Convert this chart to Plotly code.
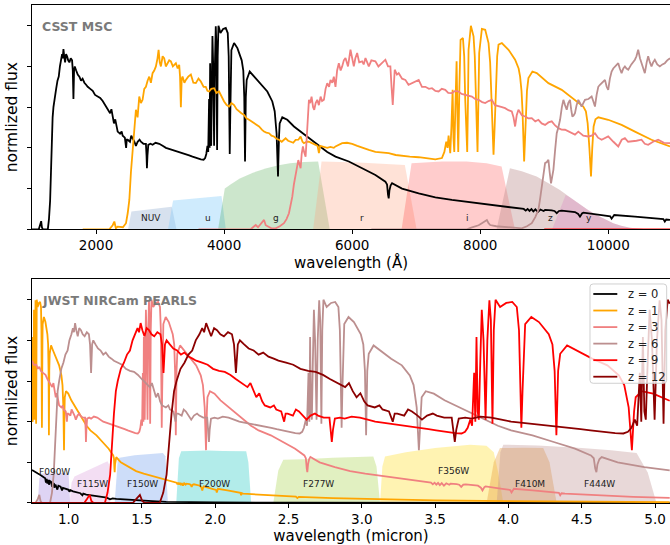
import plotly.graph_objects as go

# ---------------- DATA ----------------
labels = ["z = 0", "z = 1", "z = 3", "z = 6", "z = 9", "z = 12"]
line_colors = ["#000000", "#FFA500", "#F08080", "#BC8F8F", "#FF0000", "#8B0000"]

# ---- CSST MSC panel (wavelength in Angstrom, normalised flux) ----
csst_z0 = [(1000,0),(1060,0),(1106,0),(1125,0.02),(1143,0.04),(1155,0.01),(1169,0),(1247,0),(1265,0.05),(1283,0.14),(1296,0.3),(1309,0.44),(1322,0.55),(1335,0.60),(1356,0.66),(1377,0.69),(1398,0.73),(1418,0.75),(1436,0.80),(1455,0.83),(1470,0.86),(1480,0.84),(1491,0.885),(1503,0.85),(1517,0.82),(1532,0.86),(1548,0.85),(1565,0.83),(1584,0.82),(1605,0.84),(1626,0.83),(1637,0.78),(1647,0.64),(1657,0.78),(1668,0.80),(1690,0.78),(1714,0.76),(1740,0.75),(1766,0.73),(1790,0.74),(1818,0.72),(1845,0.71),(1870,0.70),(1910,0.69),(1948,0.68),(1985,0.66),(2026,0.65),(2065,0.645),(2104,0.63),(2140,0.61),(2182,0.59),(2220,0.57),(2240,0.59),(2260,0.55),(2280,0.52),(2300,0.54),(2320,0.50),(2338,0.48),(2375,0.47),(2400,0.48),(2416,0.46),(2450,0.45),(2470,0.40),(2480,0.44),(2494,0.44),(2530,0.43),(2550,0.46),(2571,0.45),(2600,0.43),(2623,0.41),(2650,0.43),(2680,0.44),(2701,0.43),(2740,0.42),(2779,0.42),(2789,0.36),(2795,0.30),(2803,0.36),(2816,0.415),(2850,0.42),(2883,0.415),(2930,0.425),(2987,0.42),(3040,0.41),(3091,0.40),(3140,0.395),(3195,0.39),(3250,0.385),(3299,0.38),(3350,0.375),(3403,0.37),(3455,0.363),(3507,0.357),(3570,0.35),(3637,0.344),(3680,0.342),(3704,0.35),(3722,0.37),(3740,0.41),(3752,0.38),(3766,0.64),(3774,0.40),(3782,0.816),(3790,0.45),(3798,0.41),(3808,0.70),(3818,0.95),(3830,0.80),(3844,0.41),(3856,0.80),(3870,0.997),(3880,0.90),(3891,0.39),(3900,0.85),(3912,1.0),(3943,0.964),(3985,0.984),(4026,0.989),(4057,0.964),(4072,0.85),(4082,0.55),(4088,0.37),(4096,0.55),(4106,0.80),(4114,0.88),(4156,0.915),(4208,0.89),(4275,0.83),(4300,0.78),(4315,0.65),(4327,0.333),(4339,0.65),(4353,0.734),(4400,0.775),(4468,0.75),(4571,0.71),(4675,0.677),(4753,0.628),(4790,0.58),(4820,0.47),(4842,0.26),(4857,0.45),(4868,0.52),(4909,0.55),(4987,0.538),(5091,0.505),(5195,0.48),(5325,0.45),(5481,0.415),(5611,0.38),(5740,0.357),(5948,0.333),(6156,0.30),(6363,0.267),(6519,0.234),(6545,0.22),(6560,0.17),(6571,0.152),(6582,0.19),(6600,0.215),(6623,0.226),(6779,0.20),(7039,0.177),(7299,0.157),(7558,0.144),(7818,0.133),(8078,0.123),(8338,0.111),(8597,0.103),(8680,0.1),(8710,0.092),(8740,0.1),(8770,0.09),(8800,0.099),(8830,0.088),(8862,0.098),(8900,0.085),(8940,0.097),(8990,0.09),(9013,0.095),(9117,0.093),(9160,0.09),(9195,0.079),(9230,0.09),(9273,0.092),(9377,0.09),(9480,0.085),(9530,0.075),(9558,0.062),(9590,0.078),(9610,0.082),(9896,0.07),(10030,0.064),(10052,0.052),(10075,0.066),(10093,0.07),(10416,0.062),(10727,0.054),(10860,0.05),(10883,0.038),(10905,0.048),(10964,0.046)]

csst_z1 = [(1792,0),(2208,0),(2260,0.02),(2286,0.038),(2310,0.005),(2338,0.013),(2420,0.01),(2468,0.03),(2495,0.08),(2520,0.144),(2545,0.28),(2571,0.39),(2597,0.5),(2623,0.587),(2649,0.55),(2675,0.652),(2701,0.62),(2727,0.636),(2753,0.69),(2779,0.70),(2805,0.73),(2831,0.75),(2857,0.72),(2883,0.767),(2909,0.78),(2935,0.80),(2960,0.84),(2977,0.882),(2995,0.82),(3013,0.80),(3040,0.85),(3065,0.84),(3090,0.80),(3117,0.816),(3143,0.83),(3169,0.825),(3200,0.80),(3247,0.816),(3275,0.79),(3299,0.808),(3312,0.75),(3325,0.60),(3338,0.74),(3351,0.75),(3380,0.72),(3403,0.734),(3440,0.75),(3481,0.76),(3520,0.72),(3559,0.718),(3600,0.74),(3637,0.726),(3680,0.70),(3714,0.70),(3740,0.68),(3766,0.677),(3800,0.69),(3844,0.693),(3880,0.67),(3922,0.677),(3960,0.65),(4000,0.628),(4040,0.61),(4078,0.603),(4115,0.62),(4156,0.61),(4195,0.59),(4234,0.579),(4270,0.57),(4312,0.562),(4350,0.545),(4390,0.538),(4430,0.53),(4468,0.521),(4510,0.51),(4546,0.505),(4590,0.49),(4624,0.48),(4660,0.475),(4702,0.472),(4740,0.46),(4779,0.456),(4820,0.445),(4857,0.44),(4900,0.43),(4961,0.447),(5000,0.435),(5039,0.43),(5080,0.425),(5117,0.439),(5160,0.44),(5195,0.456),(5225,0.43),(5247,0.423),(5290,0.43),(5325,0.43),(5380,0.42),(5429,0.415),(5460,0.41),(5481,0.374),(5500,0.41),(5533,0.407),(5580,0.40),(5611,0.40),(5660,0.405),(5714,0.40),(5740,0.407),(5790,0.415),(5844,0.423),(5920,0.425),(6000,0.42),(6080,0.41),(6156,0.40),(6260,0.39),(6363,0.38),(6470,0.377),(6571,0.374),(6680,0.365),(6779,0.36),(6900,0.357),(7039,0.354),(7170,0.35),(7299,0.344),(7402,0.35),(7440,0.38),(7470,0.43),(7490,0.40),(7506,0.46),(7520,0.39),(7532,0.374),(7550,0.50),(7569,0.685),(7582,0.45),(7595,0.38),(7612,0.60),(7631,0.825),(7645,0.55),(7657,0.38),(7675,0.70),(7693,0.93),(7730,0.94),(7750,0.85),(7766,0.636),(7780,0.50),(7797,0.38),(7810,0.65),(7818,0.882),(7854,1.0),(7896,0.948),(7915,0.85),(7932,0.67),(7945,0.5),(7958,0.38),(7970,0.6),(7984,0.866),(8026,0.984),(8078,0.98),(8130,0.915),(8155,0.82),(8171,0.685),(8190,0.5),(8208,0.366),(8225,0.5),(8244,0.718),(8265,0.85),(8286,0.907),(8338,0.915),(8442,0.882),(8545,0.833),(8600,0.79),(8623,0.75),(8645,0.68),(8660,0.587),(8686,0.333),(8711,0.587),(8730,0.68),(8753,0.743),(8815,0.775),(8883,0.767),(9065,0.718),(9273,0.685),(9480,0.636),(9610,0.603),(9650,0.58),(9678,0.52),(9705,0.4),(9730,0.26),(9750,0.4),(9771,0.505),(9800,0.54),(9844,0.55),(9999,0.538),(10208,0.513),(10416,0.48),(10675,0.44),(10964,0.407)]

csst_z3 = [(3600,0),(4416,0),(4470,0.015),(4494,0.021),(4530,0.01),(4571,0.026),(4600,0.035),(4624,0.046),(4650,0.02),(4675,0.016),(4740,0.005),(4805,0.005),(4870,0.015),(4935,0.03),(4975,0.05),(5013,0.079),(5040,0.12),(5065,0.16),(5090,0.22),(5117,0.275),(5140,0.32),(5159,0.34),(5177,0.32),(5195,0.30),(5212,0.37),(5231,0.407),(5250,0.38),(5273,0.357),(5300,0.50),(5325,0.636),(5345,0.62),(5366,0.652),(5390,0.60),(5408,0.587),(5430,0.62),(5455,0.636),(5480,0.61),(5507,0.652),(5530,0.63),(5559,0.636),(5585,0.69),(5611,0.718),(5640,0.70),(5662,0.734),(5690,0.72),(5714,0.75),(5740,0.70),(5765,0.78),(5792,0.816),(5820,0.78),(5844,0.80),(5870,0.83),(5896,0.841),(5935,0.80),(5974,0.882),(6000,0.84),(6026,0.80),(6050,0.84),(6078,0.866),(6110,0.82),(6156,0.825),(6180,0.81),(6208,0.841),(6235,0.82),(6260,0.80),(6300,0.83),(6363,0.825),(6410,0.80),(6467,0.816),(6490,0.82),(6519,0.833),(6560,0.80),(6597,0.80),(6615,0.70),(6634,0.611),(6650,0.70),(6665,0.784),(6700,0.76),(6727,0.767),(6780,0.74),(6831,0.734),(6880,0.71),(6935,0.718),(6990,0.73),(7039,0.734),(7090,0.70),(7143,0.70),(7200,0.69),(7247,0.693),(7300,0.68),(7350,0.677),(7400,0.69),(7454,0.685),(7500,0.67),(7558,0.669),(7610,0.68),(7662,0.677),(7710,0.665),(7766,0.66),(7820,0.655),(7870,0.652),(7920,0.64),(7974,0.636),(8030,0.625),(8078,0.62),(8130,0.63),(8182,0.636),(8230,0.61),(8286,0.603),(8340,0.6),(8389,0.595),(8440,0.585),(8493,0.579),(8520,0.55),(8545,0.505),(8570,0.56),(8597,0.587),(8650,0.56),(8701,0.554),(8750,0.545),(8805,0.546),(8860,0.53),(8909,0.538),(8960,0.52),(9013,0.513),(9065,0.525),(9117,0.53),(9170,0.51),(9221,0.497),(9270,0.49),(9325,0.489),(9380,0.48),(9428,0.472),(9480,0.465),(9532,0.48),(9610,0.46),(9688,0.456),(9740,0.46),(9792,0.472),(9840,0.45),(9896,0.44),(9950,0.45),(9999,0.456),(10080,0.43),(10156,0.407),(10210,0.44),(10260,0.448),(10310,0.43),(10364,0.431),(10440,0.435),(10519,0.44),(10570,0.42),(10623,0.415),(10700,0.43),(10779,0.44),(10870,0.425),(10964,0.423)]

csst_z6 = [(6300,0),(7792,0),(7860,0.008),(7922,0.013),(7975,0.02),(8026,0.03),(8070,0.04),(8104,0.046),(8130,0.03),(8156,0.021),(8250,0.015),(8338,0.013),(8500,0.008),(8649,0.005),(8730,0.015),(8805,0.03),(8860,0.06),(8909,0.095),(8935,0.15),(8961,0.21),(8990,0.28),(9013,0.325),(9040,0.33),(9065,0.341),(9085,0.28),(9106,0.226),(9125,0.26),(9143,0.292),(9170,0.39),(9195,0.472),(9220,0.50),(9247,0.538),(9275,0.60),(9299,0.636),(9325,0.61),(9351,0.587),(9375,0.62),(9402,0.636),(9420,0.59),(9439,0.554),(9460,0.56),(9480,0.57),(9505,0.61),(9532,0.636),(9560,0.62),(9584,0.603),(9610,0.62),(9636,0.636),(9690,0.64),(9740,0.652),(9765,0.63),(9792,0.603),(9818,0.66),(9844,0.70),(9870,0.71),(9896,0.718),(9920,0.73),(9948,0.734),(9975,0.70),(9999,0.685),(10025,0.74),(10052,0.775),(10078,0.79),(10104,0.80),(10130,0.81),(10156,0.816),(10180,0.79),(10208,0.767),(10235,0.79),(10260,0.80),(10285,0.79),(10312,0.784),(10360,0.81),(10416,0.833),(10440,0.85),(10467,0.882),(10495,0.84),(10519,0.816),(10545,0.79),(10571,0.767),(10600,0.82),(10623,0.85),(10650,0.82),(10675,0.80),(10700,0.82),(10727,0.833),(10765,0.81),(10805,0.80),(10845,0.81),(10883,0.816),(10920,0.83),(10964,0.84)]

csst_z9 = [(9000,0),(10964,0)]

csst_spectra = [csst_z0, csst_z1, csst_z3, csst_z6, csst_z9]

# CSST filter transmission outlines (wavelength, scaled throughput)
csst_filter_names = ["NUV", "u", "g", "r", "i", "z", "y"]
csst_filters = [
    [(2500,0),(2553,0.087),(3183,0.111),(3256,0)],
    [(3125,0),(3203,0.141),(3959,0.164),(4027,0)],
    [(3906,0),(4011,0.20),(4100,0.22),(4245,0.25),(4450,0.278),(4662,0.30),(4850,0.315),(5027,0.325),(5250,0.331),(5469,0.333),(5650,0)],
    [(5391,0),(5522,0.333),(6100,0.328),(6823,0.316),(7006,0)],
    [(6772,0),(6928,0.325),(7400,0.333),(7788,0.333),(8100,0.325),(8334,0.308),(8542,0)],
    [(8256,0),(8464,0.30),(8650,0.285),(8881,0.259),(9060,0.228),(9245,0.193),(9400,0.157),(9558,0.12),(9690,0.093),(9819,0.07),(9950,0.048),(10078,0.03),(10200,0.017),(10339,0.008),(10600,0)],
    [(9123,0),(9335,0.168),(9400,0.157),(9558,0.12),(9690,0.093),(9819,0.07),(9950,0.048),(10078,0.03),(10200,0.017),(10339,0.008),(10600,0)],
]
csst_filter_colors = ["rgba(176,196,222,0.5)", "rgba(135,206,250,0.4)", "rgba(0,128,0,0.2)",
                      "rgba(255,160,122,0.3)", "rgba(255,0,0,0.2)", "rgba(188,143,143,0.4)",
                      "rgba(213,85,185,0.2)"]
csst_label_x = [2855, 3755, 4803, 6147, 7803, 9095, 9703]
csst_label_y = [0.054, 0.054, 0.054, 0.054, 0.054, 0.054, 0.054]

# ---- JWST NIRCam panel (wavelength in micron) ----
jwst_z0 = [(0.75,0.162),(0.77,0.152),(0.79,0.145),(0.81,0.137),(0.825,0.131),(0.84,0.122),(0.845,0.10),(0.85,0.118),(0.855,0.095),(0.86,0.114),(0.866,0.09),(0.872,0.108),(0.88,0.104),(0.887,0.08),(0.893,0.098),(0.9,0.095),(0.902,0.075),(0.91,0.091),(0.923,0.066),(0.93,0.085),(0.945,0.08),(0.955,0.062),(0.961,0.074),(0.98,0.07),(1.0,0.065),(1.005,0.055),(1.012,0.063),(1.03,0.057),(1.08,0.048),(1.094,0.038),(1.1,0.046),(1.12,0.041),(1.16,0.036),(1.21,0.03),(1.26,0.026),(1.282,0.018),(1.3,0.023),(1.325,0.02),(1.4,0.016),(1.484,0.013),(1.57,0.009),(1.666,0.006),(1.8,0.004),(2.0,0.003),(2.5,0.0015),(3.0,0.001),(4.0,0.0005),(5.1,0.0)]

jwst_z1 = [(0.75,0.41),(0.752,0.55),(0.7532,0.64),(0.7548,0.40),(0.7564,0.816),(0.758,0.45),(0.7596,0.41),(0.7616,0.70),(0.7636,0.95),(0.766,0.80),(0.7688,0.41),(0.7712,0.80),(0.774,0.997),(0.776,0.90),(0.7782,0.39),(0.780,0.85),(0.7824,1.0),(0.7886,0.964),(0.797,0.984),(0.8052,0.989),(0.8114,0.964),(0.8144,0.85),(0.8164,0.55),(0.8176,0.37),(0.8192,0.55),(0.8212,0.80),(0.8228,0.88),(0.8312,0.915),(0.8416,0.89),(0.855,0.83),(0.86,0.78),(0.863,0.65),(0.8654,0.333),(0.8678,0.65),(0.8706,0.734),(0.88,0.775),(0.8936,0.75),(0.9142,0.71),(0.935,0.677),(0.9506,0.628),(0.958,0.58),(0.964,0.47),(0.9684,0.26),(0.9714,0.45),(0.9736,0.52),(0.9818,0.55),(0.9974,0.538),(1.0182,0.505),(1.039,0.48),(1.065,0.45),(1.0962,0.415),(1.1222,0.38),(1.148,0.357),(1.19,0.333),(1.231,0.30),(1.273,0.267),(1.304,0.234),(1.309,0.22),(1.312,0.17),(1.314,0.152),(1.3164,0.19),(1.32,0.215),(1.3246,0.226),(1.3558,0.20),(1.4078,0.177),(1.46,0.157),(1.512,0.144),(1.564,0.133),(1.616,0.123),(1.668,0.111),(1.7194,0.103),(1.736,0.1),(1.742,0.092),(1.748,0.1),(1.754,0.09),(1.76,0.099),(1.766,0.088),(1.772,0.098),(1.78,0.085),(1.788,0.097),(1.798,0.09),(1.8026,0.095),(1.8234,0.093),(1.832,0.09),(1.839,0.079),(1.846,0.09),(1.8546,0.092),(1.875,0.09),(1.896,0.085),(1.906,0.075),(1.9116,0.062),(1.918,0.078),(1.922,0.082),(1.979,0.07),(2.006,0.064),(2.0104,0.052),(2.015,0.066),(2.0186,0.07),(2.083,0.062),(2.145,0.054),(2.172,0.05),(2.1766,0.038),(2.181,0.048),(2.19,0.046),(2.3,0.042),(2.4,0.037),(2.55,0.031),(2.56,0.024),(2.57,0.03),(2.8,0.024),(3.1,0.018),(3.5,0.013),(4.0,0.009),(4.5,0.006),(5.1,0.004)]

jwst_z3 = [(0.75,0.70),(0.762,0.68),(0.779,0.68),(0.79,0.66),(0.8,0.67),(0.81,0.65),(0.825,0.64),(0.842,0.63),(0.855,0.61),(0.873,0.59),(0.888,0.57),(0.896,0.59),(0.904,0.55),(0.912,0.52),(0.92,0.54),(0.928,0.50),(0.935,0.48),(0.95,0.47),(0.96,0.48),(0.966,0.46),(0.98,0.45),(0.988,0.40),(0.992,0.44),(0.998,0.44),(1.012,0.43),(1.02,0.46),(1.028,0.45),(1.04,0.43),(1.049,0.41),(1.06,0.43),(1.072,0.44),(1.08,0.43),(1.096,0.42),(1.112,0.42),(1.116,0.36),(1.118,0.30),(1.121,0.36),(1.126,0.415),(1.14,0.42),(1.153,0.415),(1.172,0.425),(1.195,0.42),(1.216,0.41),(1.236,0.40),(1.256,0.395),(1.278,0.39),(1.3,0.385),(1.32,0.38),(1.34,0.375),(1.361,0.37),(1.382,0.363),(1.403,0.357),(1.428,0.35),(1.455,0.344),(1.472,0.342),(1.482,0.35),(1.489,0.37),(1.496,0.41),(1.501,0.38),(1.506,0.64),(1.51,0.40),(1.513,0.816),(1.516,0.45),(1.519,0.41),(1.523,0.70),(1.527,0.95),(1.532,0.80),(1.538,0.41),(1.542,0.80),(1.548,0.997),(1.552,0.90),(1.556,0.39),(1.56,0.85),(1.565,1.0),(1.577,0.964),(1.594,0.984),(1.61,0.989),(1.623,0.964),(1.629,0.85),(1.633,0.55),(1.635,0.37),(1.638,0.55),(1.642,0.80),(1.646,0.88),(1.662,0.915),(1.683,0.89),(1.71,0.83),(1.72,0.78),(1.726,0.65),(1.731,0.333),(1.736,0.65),(1.741,0.734),(1.76,0.775),(1.787,0.75),(1.828,0.71),(1.87,0.677),(1.901,0.628),(1.916,0.58),(1.928,0.47),(1.937,0.26),(1.943,0.45),(1.947,0.52),(1.964,0.55),(1.995,0.538),(2.036,0.505),(2.078,0.48),(2.13,0.45),(2.192,0.415),(2.244,0.38),(2.296,0.357),(2.379,0.333),(2.462,0.30),(2.545,0.267),(2.608,0.234),(2.618,0.22),(2.624,0.17),(2.628,0.152),(2.633,0.19),(2.64,0.215),(2.649,0.226),(2.712,0.20),(2.816,0.177),(2.92,0.157),(3.023,0.144),(3.127,0.133),(3.231,0.123),(3.335,0.111),(3.439,0.103),(3.472,0.1),(3.484,0.092),(3.496,0.1),(3.508,0.09),(3.52,0.099),(3.532,0.088),(3.545,0.098),(3.56,0.085),(3.576,0.097),(3.596,0.09),(3.605,0.095),(3.647,0.093),(3.664,0.09),(3.678,0.079),(3.692,0.09),(3.709,0.092),(3.751,0.09),(3.792,0.085),(3.812,0.075),(3.823,0.062),(3.836,0.078),(3.844,0.082),(3.958,0.07),(4.012,0.064),(4.021,0.052),(4.03,0.066),(4.037,0.07),(4.166,0.062),(4.291,0.054),(4.344,0.05),(4.353,0.038),(4.362,0.048),(4.386,0.046),(4.6,0.038),(4.85,0.03),(5.1,0.025)]

jwst_z6 = [(0.75,0),(0.774,0),(0.79,0.02),(0.8,0.04),(0.808,0.01),(0.818,0),(0.873,0),(0.886,0.05),(0.898,0.14),(0.907,0.3),(0.916,0.44),(0.925,0.55),(0.935,0.60),(0.95,0.66),(0.964,0.69),(0.978,0.73),(0.993,0.75),(1.005,0.80),(1.019,0.83),(1.029,0.86),(1.036,0.84),(1.044,0.885),(1.052,0.85),(1.062,0.82),(1.072,0.86),(1.084,0.85),(1.096,0.83),(1.109,0.82),(1.124,0.84),(1.138,0.83),(1.146,0.78),(1.153,0.64),(1.16,0.78),(1.168,0.80),(1.183,0.78),(1.2,0.76),(1.218,0.75),(1.236,0.73),(1.253,0.74),(1.273,0.72),(1.292,0.71),(1.309,0.70),(1.337,0.69),(1.364,0.68),(1.39,0.66),(1.418,0.65),(1.446,0.645),(1.473,0.63),(1.498,0.61),(1.527,0.59),(1.554,0.57),(1.568,0.59),(1.582,0.55),(1.596,0.52),(1.61,0.54),(1.624,0.50),(1.637,0.48),(1.663,0.47),(1.68,0.48),(1.691,0.46),(1.715,0.45),(1.729,0.40),(1.736,0.44),(1.746,0.44),(1.771,0.43),(1.785,0.46),(1.8,0.45),(1.82,0.43),(1.836,0.41),(1.855,0.43),(1.876,0.44),(1.891,0.43),(1.918,0.42),(1.945,0.42),(1.952,0.36),(1.957,0.30),(1.962,0.36),(1.971,0.415),(1.995,0.42),(2.018,0.415),(2.051,0.425),(2.091,0.42),(2.128,0.41),(2.164,0.40),(2.198,0.395),(2.237,0.39),(2.275,0.385),(2.309,0.38),(2.345,0.375),(2.382,0.37),(2.419,0.363),(2.455,0.357),(2.499,0.35),(2.546,0.344),(2.576,0.342),(2.593,0.35),(2.605,0.37),(2.618,0.41),(2.626,0.38),(2.636,0.64),(2.642,0.40),(2.647,0.816),(2.653,0.45),(2.659,0.41),(2.666,0.70),(2.673,0.95),(2.681,0.80),(2.691,0.41),(2.699,0.80),(2.709,0.997),(2.716,0.90),(2.724,0.39),(2.73,0.85),(2.738,1.0),(2.76,0.964),(2.79,0.984),(2.818,0.989),(2.84,0.964),(2.85,0.85),(2.857,0.55),(2.862,0.37),(2.867,0.55),(2.874,0.80),(2.88,0.88),(2.909,0.915),(2.946,0.89),(2.993,0.83),(3.01,0.78),(3.021,0.65),(3.029,0.333),(3.037,0.65),(3.047,0.734),(3.08,0.775),(3.128,0.75),(3.2,0.71),(3.273,0.677),(3.327,0.628),(3.353,0.58),(3.374,0.47),(3.389,0.26),(3.4,0.45),(3.408,0.52),(3.436,0.55),(3.491,0.538),(3.564,0.505),(3.637,0.48),(3.728,0.45),(3.837,0.415),(3.928,0.38),(4.018,0.357),(4.164,0.333),(4.309,0.30),(4.454,0.267),(4.563,0.234),(4.582,0.22),(4.592,0.17),(4.6,0.152),(4.607,0.19),(4.62,0.215),(4.636,0.226),(4.745,0.20),(4.927,0.177),(5.1,0.16)]

jwst_z9 = [(0.75,0),(1.106,0),(1.125,0.02),(1.143,0.04),(1.155,0.01),(1.169,0),(1.247,0),(1.265,0.05),(1.283,0.14),(1.296,0.3),(1.309,0.44),(1.322,0.55),(1.335,0.60),(1.356,0.66),(1.377,0.69),(1.398,0.73),(1.418,0.75),(1.436,0.80),(1.455,0.83),(1.47,0.86),(1.48,0.84),(1.491,0.885),(1.503,0.85),(1.517,0.82),(1.532,0.86),(1.548,0.85),(1.565,0.83),(1.584,0.82),(1.605,0.84),(1.626,0.83),(1.637,0.78),(1.647,0.64),(1.657,0.78),(1.668,0.80),(1.69,0.78),(1.714,0.76),(1.74,0.75),(1.766,0.73),(1.79,0.74),(1.818,0.72),(1.845,0.71),(1.87,0.70),(1.91,0.69),(1.948,0.68),(1.985,0.66),(2.026,0.65),(2.065,0.645),(2.104,0.63),(2.14,0.61),(2.182,0.59),(2.22,0.57),(2.24,0.59),(2.26,0.55),(2.28,0.52),(2.3,0.54),(2.32,0.50),(2.338,0.48),(2.375,0.47),(2.4,0.48),(2.416,0.46),(2.45,0.45),(2.47,0.40),(2.48,0.44),(2.494,0.44),(2.53,0.43),(2.55,0.46),(2.571,0.45),(2.6,0.43),(2.623,0.41),(2.65,0.43),(2.68,0.44),(2.701,0.43),(2.74,0.42),(2.779,0.42),(2.789,0.36),(2.795,0.30),(2.803,0.36),(2.816,0.415),(2.85,0.42),(2.883,0.415),(2.93,0.425),(2.987,0.42),(3.04,0.41),(3.091,0.40),(3.14,0.395),(3.195,0.39),(3.25,0.385),(3.299,0.38),(3.35,0.375),(3.403,0.37),(3.455,0.363),(3.507,0.357),(3.57,0.35),(3.637,0.344),(3.68,0.342),(3.704,0.35),(3.722,0.37),(3.74,0.41),(3.752,0.38),(3.766,0.64),(3.774,0.40),(3.782,0.816),(3.79,0.45),(3.798,0.41),(3.808,0.70),(3.818,0.95),(3.83,0.80),(3.844,0.41),(3.856,0.80),(3.87,0.997),(3.88,0.90),(3.891,0.39),(3.9,0.85),(3.912,1.0),(3.943,0.964),(3.985,0.984),(4.026,0.989),(4.057,0.964),(4.072,0.85),(4.082,0.55),(4.088,0.37),(4.096,0.55),(4.106,0.80),(4.114,0.88),(4.156,0.915),(4.208,0.89),(4.275,0.83),(4.3,0.78),(4.315,0.65),(4.327,0.333),(4.339,0.65),(4.353,0.734),(4.4,0.775),(4.468,0.75),(4.571,0.71),(4.675,0.677),(4.753,0.628),(4.79,0.58),(4.82,0.47),(4.842,0.26),(4.857,0.45),(4.868,0.52),(4.909,0.55),(4.987,0.538),(5.091,0.505),(5.1,0.503)]

jwst_z12 = [(0.75,0),(1.438,0),(1.462,0.02),(1.486,0.04),(1.502,0.01),(1.52,0),(1.621,0),(1.645,0.05),(1.668,0.14),(1.685,0.3),(1.702,0.44),(1.719,0.55),(1.736,0.60),(1.763,0.66),(1.79,0.69),(1.817,0.73),(1.843,0.75),(1.867,0.80),(1.892,0.83),(1.911,0.86),(1.924,0.84),(1.938,0.885),(1.954,0.85),(1.972,0.82),(1.992,0.86),(2.012,0.85),(2.035,0.83),(2.059,0.82),(2.087,0.84),(2.114,0.83),(2.128,0.78),(2.141,0.64),(2.154,0.78),(2.168,0.80),(2.197,0.78),(2.228,0.76),(2.262,0.75),(2.296,0.73),(2.327,0.74),(2.363,0.72),(2.399,0.71),(2.431,0.70),(2.483,0.69),(2.532,0.68),(2.581,0.66),(2.634,0.65),(2.685,0.645),(2.735,0.63),(2.782,0.61),(2.837,0.59),(2.886,0.57),(2.912,0.59),(2.938,0.55),(2.964,0.52),(2.99,0.54),(3.016,0.50),(3.039,0.48),(3.088,0.47),(3.12,0.48),(3.141,0.46),(3.185,0.45),(3.211,0.40),(3.224,0.44),(3.242,0.44),(3.289,0.43),(3.315,0.46),(3.342,0.45),(3.38,0.43),(3.41,0.41),(3.445,0.43),(3.484,0.44),(3.511,0.43),(3.562,0.42),(3.613,0.42),(3.626,0.36),(3.634,0.30),(3.644,0.36),(3.661,0.415),(3.705,0.42),(3.748,0.415),(3.809,0.425),(3.883,0.42),(3.952,0.41),(4.018,0.40),(4.082,0.395),(4.154,0.39),(4.225,0.385),(4.289,0.38),(4.355,0.375),(4.424,0.37),(4.492,0.363),(4.559,0.357),(4.641,0.35),(4.728,0.344),(4.784,0.342),(4.815,0.35),(4.839,0.37),(4.862,0.41),(4.878,0.38),(4.896,0.64),(4.906,0.40),(4.917,0.816),(4.927,0.45),(4.937,0.41),(4.95,0.70),(4.963,0.95),(4.979,0.80),(4.997,0.41),(5.013,0.80),(5.031,0.997),(5.044,0.90),(5.058,0.39),(5.07,0.85),(5.086,1.0),(5.1,0.98)]

jwst_spectra = [jwst_z0, jwst_z1, jwst_z3, jwst_z6, jwst_z9, jwst_z12]

jwst_filter_names = ["F090W", "F115W", "F150W", "F200W", "F277W", "F356W", "F410M", "F444W"]
jwst_filters = [
    [(0.79,0),(0.80,0.12),(0.82,0.145),(0.97,0.148),(1.0,0.14),(1.01,0)],
    [(1.007,0),(1.02,0.10),(1.04,0.13),(1.1,0.15),(1.2,0.18),(1.265,0.205),(1.275,0.19),(1.284,0)],
    [(1.314,0),(1.336,0.221),(1.45,0.235),(1.55,0.24),(1.643,0.246),(1.66,0.23),(1.677,0)],
    [(1.734,0),(1.752,0.22),(1.768,0.254),(1.85,0.256),(1.95,0.258),(2.05,0.256),(2.15,0.255),(2.211,0.254),(2.226,0.2),(2.245,0)],
    [(2.396,0),(2.43,0.16),(2.464,0.213),(2.6,0.215),(2.8,0.222),(3.0,0.228),(3.078,0.229),(3.1,0.18),(3.124,0)],
    [(3.124,0),(3.14,0.18),(3.158,0.229),(3.3,0.25),(3.5,0.27),(3.737,0.287),(3.85,0.282),(3.90,0.25),(3.93,0.15),(3.965,0)],
    [(3.851,0),(3.90,0.2),(3.942,0.27),(4.1,0.272),(4.237,0.27),(4.28,0.2),(4.329,0)],
    [(3.92,0),(3.945,0.25),(3.965,0.287),(4.2,0.283),(4.5,0.27),(4.7,0.26),(4.874,0.246),(4.95,0.15),(5.01,0)],
]
jwst_filter_colors = ["rgba(147,112,219,0.3)", "rgba(221,160,221,0.35)", "rgba(100,149,237,0.32)",
                      "rgba(72,209,204,0.42)", "rgba(154,205,50,0.3)", "rgba(255,215,0,0.3)",
                      "rgba(230,150,50,0.35)", "rgba(188,143,143,0.35)"]
jwst_label_x = [0.905, 1.161, 1.502, 1.996, 2.703, 3.628, 4.147, 4.619]
jwst_label_y = [0.152, 0.095, 0.095, 0.095, 0.095, 0.156, 0.095, 0.095]

csst_ticks = [2000, 4000, 6000, 8000, 10000]
jwst_ticks = [1.0, 1.5, 2.0, 2.5, 3.0, 3.5, 4.0, 4.5, 5.0]
flux_ticks = [0, 0.2, 0.4, 0.6, 0.8, 1.0]

# ---------------- FIGURE ----------------
FONT = "DejaVu Sans"
fig = go.Figure()

def add_filters(polys, colors, xa, ya):
    for poly, col in zip(polys, colors):
        w, t = zip(*poly)
        fig.add_trace(go.Scatter(x=list(w), y=list(t), mode="lines", fill="toself",
                                 fillcolor=col, line=dict(width=0, color=col),
                                 hoverinfo="skip", showlegend=False, xaxis=xa, yaxis=ya))

def add_spectra(spectra, xa, ya):
    for spec, col, lab in zip(spectra, line_colors, labels):
        w, f = zip(*spec)
        fig.add_trace(go.Scatter(x=list(w), y=list(f), mode="lines", name=lab,
                                 line=dict(color=col, width=1.8), showlegend=False,
                                 xaxis=xa, yaxis=ya))

add_filters(csst_filters, csst_filter_colors, "x", "y")
add_spectra(csst_spectra, "x", "y")
add_filters(jwst_filters, jwst_filter_colors, "x2", "y2")
add_spectra(jwst_spectra, "x2", "y2")

annotations = []
for name, lx, ly in zip(csst_filter_names, csst_label_x, csst_label_y):
    annotations.append(dict(x=lx, y=ly, xref="x", yref="y", text=name, showarrow=False,
                            font=dict(family=FONT, size=9, color="#222")))
for name, lx, ly in zip(jwst_filter_names, jwst_label_x, jwst_label_y):
    annotations.append(dict(x=lx, y=ly, xref="x2", yref="y2", text=name, showarrow=False,
                            font=dict(family=FONT, size=9, color="#222")))

annotations.append(dict(x=0.012, y=0.906, xref="x domain", yref="y domain", text="<b>CSST MSC</b>",
                        showarrow=False, xanchor="left", yanchor="middle",
                        font=dict(family=FONT, size=12.5, color="#7a7a7a")))
annotations.append(dict(x=0.012, y=0.906, xref="x2 domain", yref="y2 domain", text="<b>JWST NIRCam PEARLS</b>",
                        showarrow=False, xanchor="left", yanchor="middle",
                        font=dict(family=FONT, size=12.5, color="#7a7a7a")))

# legend (matplotlib style box) in bottom panel
shapes = []
lx0, lx1, ly0, ly1 = 0.8746, 0.9948, 0.2404, 0.4398
r_x, r_y = 0.005, 0.006
path = (f"M {lx0+r_x},{ly0} L {lx1-r_x},{ly0} Q {lx1},{ly0} {lx1},{ly0+r_y} "
        f"L {lx1},{ly1-r_y} Q {lx1},{ly1} {lx1-r_x},{ly1} L {lx0+r_x},{ly1} "
        f"Q {lx0},{ly1} {lx0},{ly1-r_y} L {lx0},{ly0+r_y} Q {lx0},{ly0} {lx0+r_x},{ly0} Z")
shapes.append(dict(type="path", path=path, xref="paper", yref="paper",
                   fillcolor="rgba(255,255,255,0.8)", line=dict(color="#d0d0d0", width=1), layer="above"))
row_y0, row_step = 0.4197, 0.03322
for i, (lab, col) in enumerate(zip(labels, line_colors)):
    yy = row_y0 - i * row_step
    shapes.append(dict(type="line", xref="paper", yref="paper", x0=0.8798, x1=0.9174, y0=yy, y1=yy,
                       line=dict(color=col, width=1.8), layer="above"))
    annotations.append(dict(x=0.9306, y=yy, xref="paper", yref="paper", text=lab, showarrow=False,
                            xanchor="left", yanchor="middle", font=dict(family=FONT, size=11.5, color="#222")))

axis_common = dict(showgrid=False, zeroline=False, showline=True, linecolor="black", linewidth=1,
                   ticks="outside", ticklen=4, tickwidth=1, tickcolor="black")

fig.update_layout(
    width=670, height=545,
    margin=dict(l=32, r=0, t=5, b=42),
    paper_bgcolor="white", plot_bgcolor="white",
    showlegend=False,
    font=dict(family=FONT, color="black"),
    annotations=annotations, shapes=shapes,
    xaxis=dict(domain=[0, 1], anchor="y", range=[1000, 10964], tickvals=csst_ticks,
               ticktext=[str(t) for t in csst_ticks], mirror=True,
               tickfont=dict(family=FONT, size=13.5),
               title=dict(text="wavelength (Å)", font=dict(family=FONT, size=15), standoff=1),
               **axis_common),
    yaxis=dict(domain=[0.5496, 1], anchor="x", range=[0, 1.1018], tickvals=flux_ticks,
               showticklabels=False,
               title=dict(text="normlized flux", font=dict(family=FONT, size=15.5), standoff=5),
               **axis_common),
    xaxis2=dict(domain=[0, 1], anchor="y2", range=[0.75, 5.102], tickvals=jwst_ticks,
                ticktext=[f"{t:.1f}" for t in jwst_ticks], mirror=True,
                tickfont=dict(family=FONT, size=13.5),
                title=dict(text="wavelength (micron)", font=dict(family=FONT, size=15), standoff=1),
                **axis_common),
    yaxis2=dict(domain=[0, 0.4498], anchor="x2", range=[0, 1.1018], tickvals=flux_ticks,
                showticklabels=False,
                title=dict(text="normlized flux", font=dict(family=FONT, size=15.5), standoff=5),
                **axis_common),
)

fig.write_html("out.html", config={"displayModeBar": False},
               post_script="document.body.style.margin='0px';document.body.style.padding='0px';"
                           "document.body.style.overflow='hidden';")
